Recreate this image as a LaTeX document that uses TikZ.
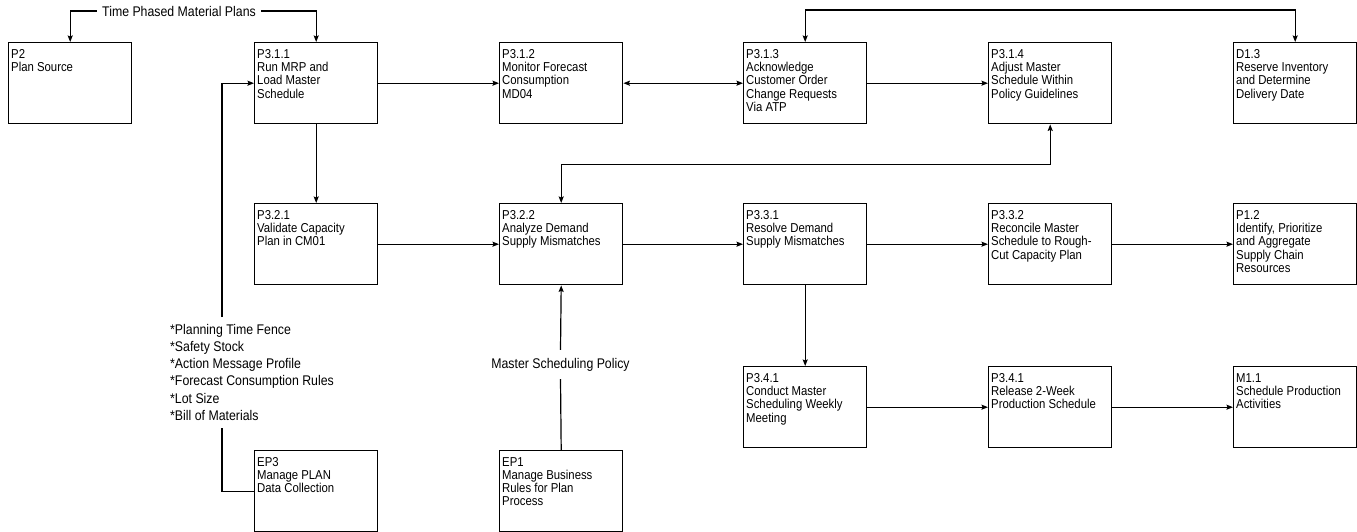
\documentclass[tikz,border=0pt]{standalone}
\usepackage{fontspec}
\setmainfont{Liberation Sans}[FakeStretch=0.88]
\usetikzlibrary{arrows.meta}
\begin{document}
\begin{tikzpicture}[x=1pt,y=-1pt,
  >={Stealth[length=6.5pt,width=5pt,inset=1pt]},
  stepbox/.style={draw, line width=1.4pt, minimum width=123pt, minimum height=81pt,
                  inner sep=0pt, anchor=north west},
  boxtext/.style={anchor=north west, inner sep=0pt, align=left,
                  font=\fontsize{12.9}{13.2}\selectfont},
  flowlabel/.style={inner sep=0pt, align=left, font=\fontsize{14}{17.2}\selectfont},
  conn/.style={line width=1.2pt}]
\useasboundingbox (0,0) rectangle (1357,532);

% ---- process boxes: row 1
\node[stepbox] (p2)   at (8,42)    {};
\node[stepbox] (p311) at (254,42)  {};
\node[stepbox] (p312) at (499,42)  {};
\node[stepbox] (p313) at (743,42)  {};
\node[stepbox] (p314) at (988,42)  {};
\node[stepbox] (d13)  at (1233,42) {};
% ---- row 2
\node[stepbox] (p321) at (254,203)  {};
\node[stepbox] (p322) at (499,203)  {};
\node[stepbox] (p331) at (743,203)  {};
\node[stepbox] (p332) at (988,203)  {};
\node[stepbox] (p12)  at (1233,203) {};
% ---- row 3
\node[stepbox] (p341)  at (743,366)  {};
\node[stepbox] (p341b) at (988,366)  {};
\node[stepbox] (m11)   at (1233,366) {};
% ---- enabling processes
\node[stepbox] (ep3) at (254,450) {};
\node[stepbox] (ep1) at (499,450) {};

% ---- box captions, set at the top left of each box
\node[boxtext] (p2t)    at ([shift={(3,7.3)}]p2.north west)    {P2\\Plan Source};
\node[boxtext] (p311t)  at ([shift={(3,7.3)}]p311.north west)  {P3.1.1\\Run MRP and\\Load Master\\Schedule};
\node[boxtext] (p312t)  at ([shift={(3,7.3)}]p312.north west)  {P3.1.2\\Monitor Forecast\\Consumption\\MD04};
\node[boxtext] (p313t)  at ([shift={(3,7.3)}]p313.north west)  {P3.1.3\\Acknowledge\\Customer Order\\Change Requests\\Via ATP};
\node[boxtext] (p314t)  at ([shift={(3,7.3)}]p314.north west)  {P3.1.4\\Adjust Master\\Schedule Within\\Policy Guidelines};
\node[boxtext] (d13t)   at ([shift={(3,7.3)}]d13.north west)   {D1.3\\Reserve Inventory\\and Determine\\Delivery Date};
\node[boxtext] (p321t)  at ([shift={(3,7.3)}]p321.north west)  {P3.2.1\\Validate Capacity\\Plan in CM01};
\node[boxtext] (p322t)  at ([shift={(3,7.3)}]p322.north west)  {P3.2.2\\Analyze Demand\\Supply Mismatches};
\node[boxtext] (p331t)  at ([shift={(3,7.3)}]p331.north west)  {P3.3.1\\Resolve Demand\\Supply Mismatches};
\node[boxtext] (p332t)  at ([shift={(3,7.3)}]p332.north west)  {P3.3.2\\Reconcile Master\\Schedule to Rough-\\Cut Capacity Plan};
\node[boxtext] (p12t)   at ([shift={(3,7.3)}]p12.north west)   {P1.2\\Identify, Prioritize\\and Aggregate\\Supply Chain\\Resources};
\node[boxtext] (p341t)  at ([shift={(3,7.3)}]p341.north west)  {P3.4.1\\Conduct Master\\Scheduling Weekly\\Meeting};
\node[boxtext] (p341bt) at ([shift={(3,7.3)}]p341b.north west) {P3.4.1\\Release 2-Week\\Production Schedule};
\node[boxtext] (m11t)   at ([shift={(3,7.3)}]m11.north west)   {M1.1\\Schedule Production\\Activities};
\node[boxtext] (ep3t)   at ([shift={(3,7.3)}]ep3.north west)   {EP3\\Manage PLAN\\Data Collection};
\node[boxtext] (ep1t)   at ([shift={(3,7.3)}]ep1.north west)   {EP1\\Manage Business\\Rules for Plan\\Process};

% ---- flow labels
\node[flowlabel, inner xsep=5pt] (tpm) at (179,11) {Time Phased Material Plans};
\node[flowlabel, minimum height=29pt] (msp) at (560.5,364.5) {Master Scheduling Policy};
\node[flowlabel, anchor=north west] (params) at (170,324)
  {*Planning Time Fence\\*Safety Stock\\*Action Message Profile\\*Forecast Consumption Rules\\*Lot Size\\*Bill of Materials};
\coordinate (lt) at (222,317);
\coordinate (lb) at (222,428);

% ---- connectors
\begin{scope}[conn]
\draw[->] (tpm.west) -| (p2.north);
\draw[->] (tpm.east) -| (p311.north);
\draw[->] (p311.east) -- (p312.west);
\draw[<->] (p312.east) -- (p313.west);
\draw[->] (p313.east) -- (p314.west);
\draw[<->] (p313.north) -- ++(0,-32) -| (d13.north);
\draw[->] (p311.south) -- (p321.north);
\draw[<->] (p314.south) -- ++(0,40) -| (p322.north);
\draw[->] (p321.east) -- (p322.west);
\draw[->] (p322.east) -- (p331.west);
\draw[->] (p331.east) -- (p332.west);
\draw[->] (p332.east) -- (p12.west);
\draw[->] (p331.south) -- (p341.north);
\draw[->] (p341.east) -- (p341b.west);
\draw[->] (p341b.east) -- (m11.west);
\draw (ep1.north) -- (msp.south);
\draw[->] (msp.north) -- (p322.south);
\draw (ep3.west) -| (lb);
\draw[->] (lt) |- (p311.west);
\end{scope}
\end{tikzpicture}
\end{document}
